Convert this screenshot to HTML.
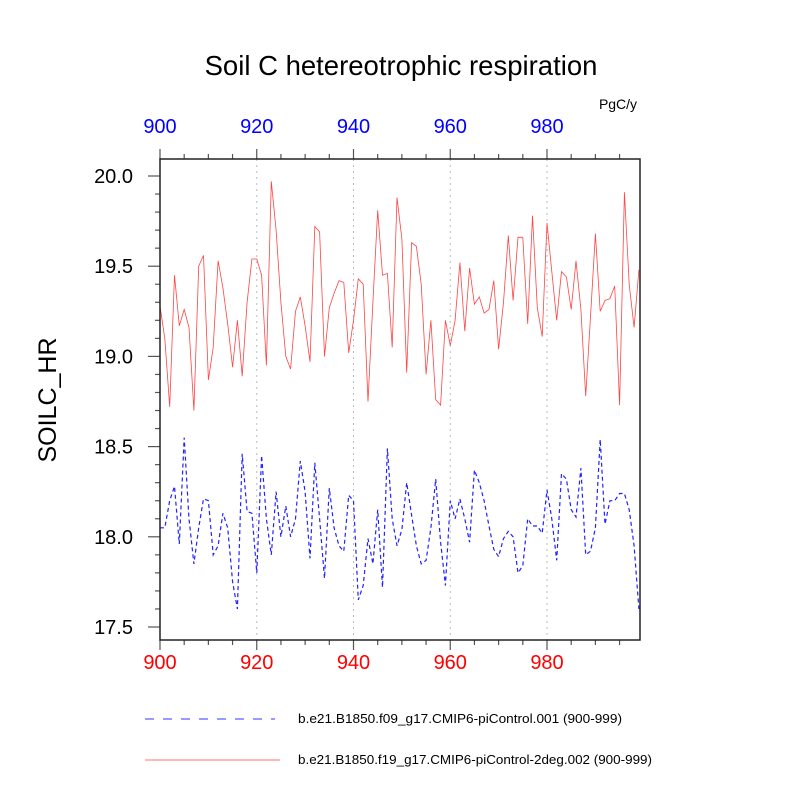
<!DOCTYPE html>
<html><head><meta charset="utf-8"><style>
body{margin:0;background:#fff}
svg text{font-family:"Liberation Sans",sans-serif}
</style></head><body>
<svg id="chart" width="800" height="800">
<text x="401" y="75" font-size="27.5" text-anchor="middle">Soil C hetereotrophic respiration</text>
<text x="618" y="109" font-size="14" text-anchor="middle">PgC/y</text>
<text x="0" y="0" font-size="25" text-anchor="middle" transform="translate(56,400) rotate(-90)">SOILC_HR</text>
<g id="grid"></g><g id="axes"></g><g id="series"></g>
<rect x="160" y="159" width="480" height="481" fill="none" stroke="#222" stroke-width="1.5"/>
<line x1="145" y1="719" x2="275" y2="719" stroke="#33f" stroke-width="1" stroke-dasharray="9,9"/>
<text x="298" y="723" font-size="13" textLength="324" lengthAdjust="spacingAndGlyphs">b.e21.B1850.f09_g17.CMIP6-piControl.001 (900-999)</text>
<line x1="145" y1="760" x2="280" y2="760" stroke="#f44" stroke-width="0.8"/>
<text x="298" y="764" font-size="13" textLength="354" lengthAdjust="spacingAndGlyphs">b.e21.B1850.f19_g17.CMIP6-piControl-2deg.002 (900-999)</text>
</svg>
<script>
const years=[];for(let i=0;i<100;i++)years.push(900+i);
const redSeries=[19.28,19.1,18.72,19.45,19.17,19.26,19.16,18.70,19.5,19.56,18.87,19.05,19.53,19.38,19.18,18.94,19.2,18.89,19.3,19.54,19.54,19.45,18.95,19.97,19.7,19.3,19.0,18.93,19.25,19.33,19.17,18.97,19.72,19.69,19.0,19.27,19.35,19.42,19.41,19.02,19.2,19.43,19.40,18.75,19.3,19.81,19.45,19.46,19.05,19.88,19.65,18.91,19.63,19.61,19.4,18.9,19.2,18.76,18.73,19.2,19.06,19.2,19.52,19.14,19.49,19.29,19.33,19.24,19.26,19.42,19.04,19.3,19.67,19.31,19.66,19.66,19.18,19.78,19.27,19.11,19.74,19.47,19.2,19.47,19.44,19.26,19.53,19.26,18.78,19.22,19.68,19.25,19.31,19.32,19.39,18.73,19.91,19.4,19.16,19.48];
const blueSeries=[18.05,18.05,18.2,18.28,17.96,18.55,18.1,17.85,18.05,18.21,18.2,17.9,17.95,18.13,18.05,17.75,17.6,18.46,18.14,18.13,17.8,18.45,18.1,17.9,18.25,18.0,18.17,18.0,18.1,18.42,18.25,17.88,18.41,18.1,17.77,18.27,18.05,17.95,17.92,18.23,18.2,17.65,17.73,17.99,17.85,18.15,17.72,18.49,18.1,17.95,18.04,18.3,18.12,17.95,17.85,17.87,18.05,18.32,17.97,17.73,18.2,18.1,18.21,18.1,17.97,18.37,18.3,18.2,18.06,17.93,17.89,17.99,18.03,18.0,17.8,17.84,18.1,18.06,18.06,18.02,18.26,18.1,17.87,18.35,18.32,18.15,18.11,18.38,17.9,17.92,18.05,18.54,18.07,18.2,18.2,18.24,18.24,18.15,17.95,17.6];
const xTicks=[900,920,940,960,980];
const yTicks=[17.5,18.0,18.5,19.0,19.5,20.0];
const X=v=>160+(v-900)*4.8375;
const Y=v=>176+(20-v)*180.4;
const NS="http://www.w3.org/2000/svg";
function mk(t,a,p){const e=document.createElementNS(NS,t);for(const k in a)e.setAttribute(k,a[k]);p.appendChild(e);return e;}
const grid=document.getElementById('grid'),axes=document.getElementById('axes'),ser=document.getElementById('series');
xTicks.forEach(v=>{
 if(v>900){const g=mk('line',{x1:X(v),x2:X(v),y1:159,y2:640,stroke:'#bbb','stroke-dasharray':'2,4'},grid);
 
 }
 const b=mk('text',{x:X(v),y:669,'font-size':20,'text-anchor':'middle',fill:'#f00'},axes);b.textContent=v;
 
 
 const t=mk('text',{x:X(v),y:133,'font-size':20,'text-anchor':'middle',fill:'#00f'},axes);t.textContent=v;
 
 
});
for(let v=900;v<1000;v+=5){const maj=v%20===0,L=maj?10:5;
 mk('line',{x1:X(v),x2:X(v),y1:159,y2:159-L,stroke:'#555','stroke-width':1.2},axes);
 mk('line',{x1:X(v),x2:X(v),y1:640,y2:640+L,stroke:'#555','stroke-width':1.2},axes);}
for(let k=0;k<=27;k++){const v=17.4+k*0.1;const y=Y(v);if(y<159||y>640)continue;
 const maj=Math.abs(v*2-Math.round(v*2))<0.01;const L=maj?12:5;
 mk('line',{x1:160-L,x2:160,y1:y,y2:y,stroke:'#555','stroke-width':1.2},axes);}
yTicks.forEach(v=>{const t=mk('text',{x:133,y:Y(v)+7,'font-size':20,'text-anchor':'end'},axes);t.textContent=v.toFixed(1);
 
 });
function line(vals,color,w,dash,name){const d=vals.map((v,i)=>(i?'L':'M')+X(years[i]).toFixed(1)+','+Y(v).toFixed(1)).join('');
 const p=mk('path',{d:d,fill:'none',stroke:color,'stroke-width':w},ser);if(dash)p.setAttribute('stroke-dasharray',dash);
 
 }
line(redSeries,'#f44',0.8,null,'series-f19-line');
line(blueSeries,'#22f',1.2,'4,3','series-f09-line');
</script>
</body></html>
